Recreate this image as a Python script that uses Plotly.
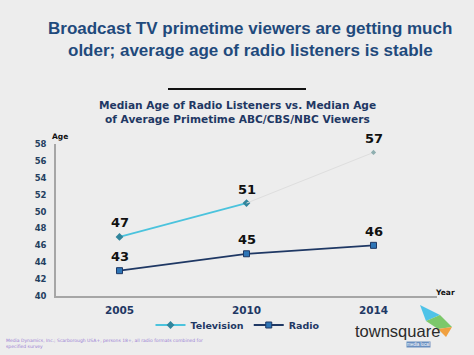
import plotly.graph_objects as go

years = ["2005", "2010", "2014"]
television = [47, 51, 57]
radio = [43, 45, 46]
y_ticks = [40, 42, 44, 46, 48, 50, 52, 54, 56, 58]

W, H = 474, 355
L, R, T, B = 56, 437, 144, 296


def px(x):
    return (x - L) / (R - L)


def py(y):
    return (B - y) / (B - T)


fig = go.Figure()

# Television: solid observed segment 2005-2010
fig.add_trace(go.Scatter(
    x=years[:2], y=television[:2], mode="lines+markers", name="Television",
    line=dict(color="#4BC3DD", width=1.8),
    marker=dict(symbol="diamond", size=6, color="#31859C"),
))
# Television: faint segment 2010-2014
fig.add_trace(go.Scatter(
    x=years[1:], y=television[1:], mode="lines", showlegend=False,
    line=dict(color="#DEDEDE", width=1), hoverinfo="skip",
))
fig.add_trace(go.Scatter(
    x=years[2:], y=television[2:], mode="markers", showlegend=False,
    marker=dict(symbol="diamond", size=4, color="#8FAFB0"),
))
# Radio
fig.add_trace(go.Scatter(
    x=years, y=radio, mode="lines+markers", name="Radio",
    line=dict(color="#1F3864", width=1.8),
    marker=dict(symbol="square", size=6, color="#2E75B6",
                line=dict(color="#1F3864", width=1)),
))

label_font = dict(size=13, color="#111111", family="DejaVu Sans", weight="bold")
annotations = []
for i, yv in enumerate(television):
    annotations.append(dict(x=i, y=yv, xref="x", yref="y", text=str(yv),
                            showarrow=False, yshift=14, font=label_font))
for i, yv in enumerate(radio):
    annotations.append(dict(x=i, y=yv, xref="x", yref="y", text=str(yv),
                            showarrow=False, yshift=14, font=label_font))

title_font = dict(family="Liberation Sans", size=17, color="#1F4A7C", weight="bold")
sub_font = dict(family="DejaVu Sans", size=10.6, color="#1F3864", weight="bold")
small_font = dict(family="DejaVu Sans", size=7.5, color="#111111", weight="bold")
annotations += [
    dict(xref="paper", yref="paper", x=px(250), y=py(28),
         text="Broadcast TV primetime viewers are getting much",
         showarrow=False, font=title_font, xanchor="center", yanchor="middle"),
    dict(xref="paper", yref="paper", x=px(250), y=py(50),
         text="older; average age of radio listeners is stable",
         showarrow=False, font=title_font, xanchor="center", yanchor="middle"),
    dict(xref="paper", yref="paper", x=px(237), y=py(105),
         text="Median Age of Radio Listeners vs. Median Age",
         showarrow=False, font=sub_font, xanchor="center", yanchor="middle"),
    dict(xref="paper", yref="paper", x=px(237), y=py(119),
         text="of Average Primetime ABC/CBS/NBC Viewers",
         showarrow=False, font=sub_font, xanchor="center", yanchor="middle"),
    dict(xref="paper", yref="paper", x=px(50), y=py(136),
         text="Age", showarrow=False, xanchor="left", yanchor="middle",
         font=small_font),
    dict(xref="paper", yref="paper", x=px(433), y=py(292),
         text="Year", showarrow=False, xanchor="left", yanchor="middle",
         font=small_font),
    dict(xref="paper", yref="paper", x=px(4), y=py(343),
         text="Media Dynamics, Inc.; Scarborough USA+, persons 18+, all radio formats combined for<br>specified survey",
         showarrow=False, xanchor="left", yanchor="middle", align="left",
         font=dict(family="DejaVu Sans", size=4.5, color="#9B7FD4")),
    dict(xref="paper", yref="paper", x=px(397), y=py(331),
         text="townsquare", showarrow=False, xanchor="center", yanchor="middle",
         font=dict(family="Liberation Sans", size=16.5, color="#2A2A2A")),
    dict(xref="paper", yref="paper", x=px(418), y=py(344),
         text="media local", showarrow=False, xanchor="center", yanchor="middle",
         bgcolor="#6A8FC0", borderpad=0,
         font=dict(family="Liberation Sans", size=4.5, color="#FFFFFF")),
]

shapes = [
    dict(type="line", xref="paper", yref="paper", x0=px(168), x1=px(306),
         y0=py(89), y1=py(89), line=dict(color="#111111", width=2)),
    # logo graphic
    dict(type="path", xref="paper", yref="paper",
         path=f"M {px(420)},{py(305)} L {px(440)},{py(315)} L {px(426)},{py(321)} Z",
         fillcolor="#4FC3E8", line=dict(width=0)),
    dict(type="path", xref="paper", yref="paper",
         path=f"M {px(426)},{py(321)} L {px(440)},{py(315)} L {px(452)},{py(327)} L {px(438)},{py(329)} Z",
         fillcolor="#7CC86A", line=dict(width=0)),
    dict(type="path", xref="paper", yref="paper",
         path=f"M {px(438)},{py(329)} L {px(452)},{py(327)} L {px(446)},{py(337)} Z",
         fillcolor="#F0A040", line=dict(width=0)),
]

fig.update_layout(
    width=W, height=H,
    margin=dict(l=L, r=W - R, t=T, b=H - B, autoexpand=False),
    paper_bgcolor="#EDEDED", plot_bgcolor="rgba(0,0,0,0)",
    showlegend=True,
    legend=dict(orientation="h", x=px(238), y=py(325), xanchor="center",
                yanchor="middle", bgcolor="rgba(0,0,0,0)",
                font=dict(family="DejaVu Sans", size=9.5, color="#1F3864",
                          weight="bold"),
                itemwidth=30, tracegroupgap=0),
    annotations=annotations,
    shapes=shapes,
    font=dict(family="DejaVu Sans"),
)
fig.update_xaxes(type="category", range=[-0.5, 2.5], showgrid=False,
                 showline=True, linecolor="#A6A6A6", linewidth=1.5,
                 ticks="", tickfont=dict(family="DejaVu Sans", size=10.5,
                                         color="#1F3864", weight="bold"),
                 ticklabelstandoff=4)
fig.update_yaxes(range=[40, 58], tickvals=y_ticks, showgrid=False,
                 zeroline=False, showline=True, linecolor="#A6A6A6",
                 linewidth=1.5, ticks="",
                 tickfont=dict(family="DejaVu Sans", size=8.5, color="#243F60",
                               weight="bold"),
                 ticklabelstandoff=6)

fig.write_html("out.html", config={"displayModeBar": False},
               post_script="document.body.style.margin='0';")
